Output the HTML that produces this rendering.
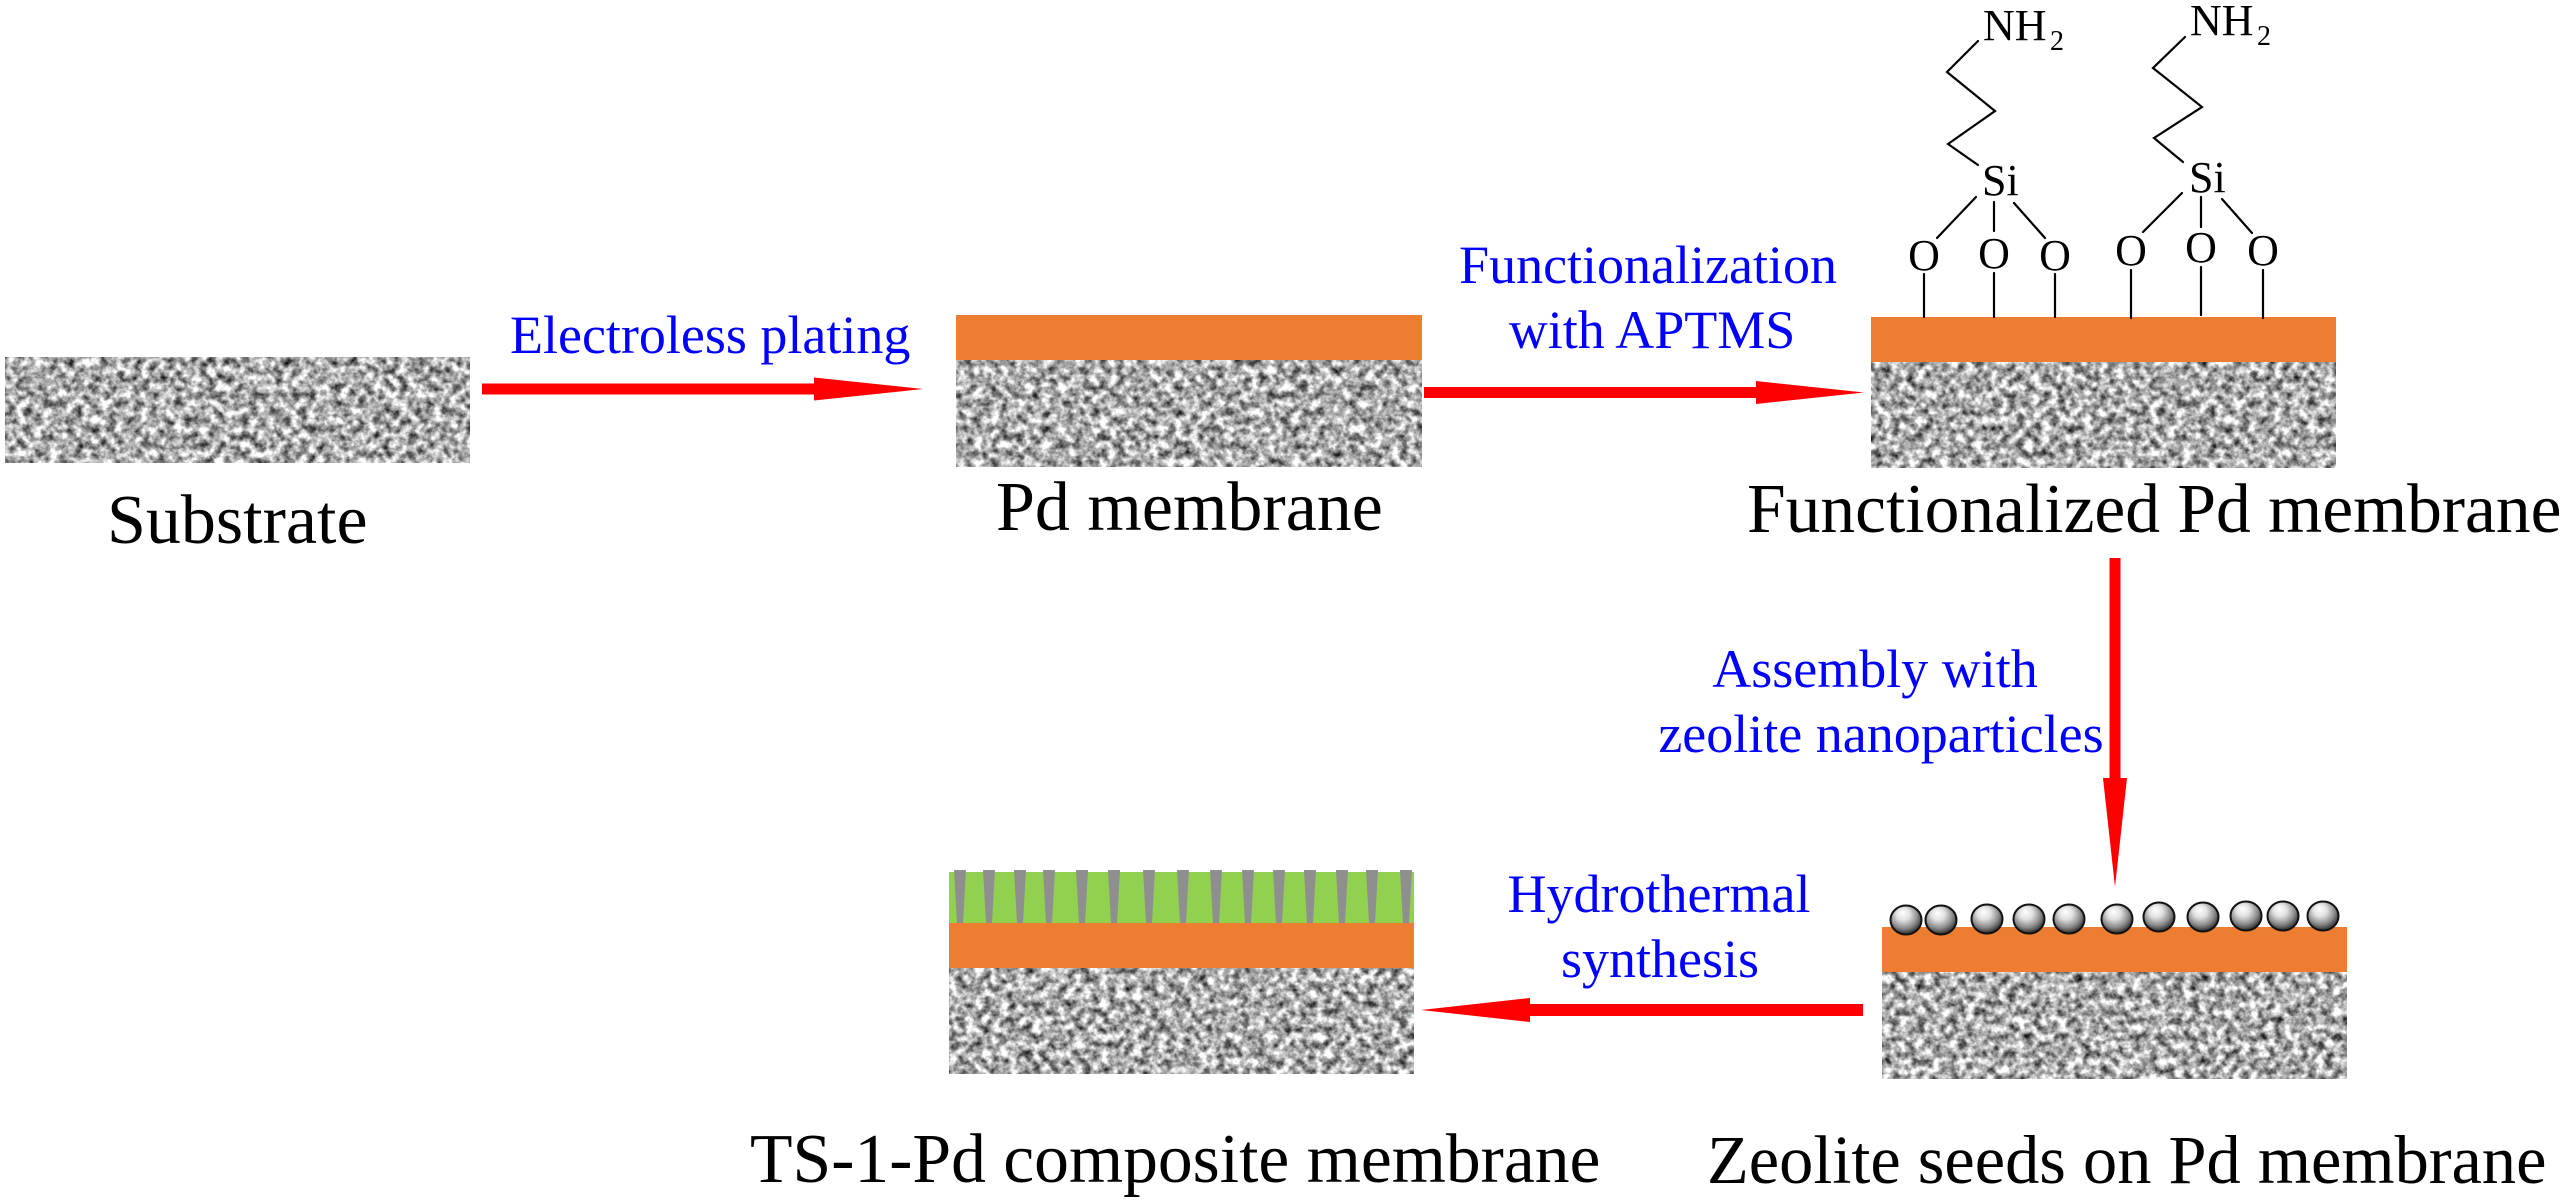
<!DOCTYPE html>
<html>
<head>
<meta charset="utf-8">
<style>
  html, body { margin: 0; padding: 0; background: #ffffff; }
  body { position: relative; width: 2568px; height: 1202px; overflow: hidden; }
  svg { display: block; position: absolute; left: 0; top: 0; }
  text { font-family: "Liberation Serif", "Times New Roman", serif; }
  .t { position: absolute; white-space: nowrap; line-height: 1; font-family: "Liberation Serif", "Times New Roman", serif; font-weight: normal; }
  .b { font-size: 54px; color: #0000ff; }
  .k { font-size: 70px; color: #000000; }
  .c { text-align: center; width: 600px; }
</style>
</head>
<body>
<svg width="2568" height="1202" viewBox="0 0 2568 1202" xmlns="http://www.w3.org/2000/svg">
  <defs>
    <filter id="noise" x="0" y="0" width="1" height="1" filterUnits="objectBoundingBox" color-interpolation-filters="sRGB">
      <feTurbulence type="fractalNoise" baseFrequency="0.12" numOctaves="3" seed="7" result="t"/>
      <feColorMatrix in="t" type="matrix" values="1.55 0 0 0 -0.1  1.55 0 0 0 -0.1  1.55 0 0 0 -0.1  0 0 0 0 1"/>
    </filter>
    <radialGradient id="sph" cx="0.45" cy="0.38" r="0.62" fx="0.38" fy="0.25">
      <stop offset="0" stop-color="#ffffff"/>
      <stop offset="0.35" stop-color="#e2e2e2"/>
      <stop offset="0.72" stop-color="#8a8a8a"/>
      <stop offset="1" stop-color="#2a2a2a"/>
    </radialGradient>
  </defs>

  <!-- Substrate -->
  <rect x="5" y="357" width="465" height="106" fill="#a8a8a8" filter="url(#noise)"/>

  <!-- Pd membrane -->
  <rect x="956" y="315" width="466" height="45" fill="#ed7d31"/>
  <rect x="956" y="360" width="466" height="107" fill="#a8a8a8" filter="url(#noise)"/>

  <!-- Functionalized Pd membrane -->
  <rect x="1871" y="317" width="465" height="45" fill="#ed7d31"/>
  <rect x="1871" y="362" width="465" height="106" fill="#a8a8a8" filter="url(#noise)"/>

  <!-- Zeolite seeds on Pd membrane -->
  <rect x="1882" y="927" width="465" height="45" fill="#ed7d31"/>
  <rect x="1882" y="972" width="465" height="107" fill="#a8a8a8" filter="url(#noise)"/>
  <g fill="url(#sph)" stroke="#111" stroke-width="2">
    <ellipse cx="1906" cy="920" rx="15.5" ry="14.5"/>
    <ellipse cx="1941" cy="920" rx="15.5" ry="14.5"/>
    <ellipse cx="1987" cy="919" rx="15.5" ry="14.5"/>
    <ellipse cx="2029" cy="919" rx="15.5" ry="14.5"/>
    <ellipse cx="2069" cy="919" rx="15.5" ry="14.5"/>
    <ellipse cx="2117" cy="919" rx="15.5" ry="14.5"/>
    <ellipse cx="2159" cy="917" rx="15.5" ry="14.5"/>
    <ellipse cx="2203" cy="917" rx="15.5" ry="14.5"/>
    <ellipse cx="2246" cy="916" rx="15.5" ry="14.5"/>
    <ellipse cx="2283" cy="916" rx="15.5" ry="14.5"/>
    <ellipse cx="2323" cy="916" rx="15.5" ry="14.5"/>
  </g>

  <!-- TS-1-Pd composite membrane -->
  <rect x="949" y="872" width="465" height="51" fill="#92d050"/>
  <g fill="#8f8f8f">
    <polygon points="954,870 966,870 963,923 957,923"/>
    <polygon points="983,870 995,870 992,923 986,923"/>
    <polygon points="1014,870 1026,870 1023,923 1017,923"/>
    <polygon points="1043,870 1055,870 1052,923 1046,923"/>
    <polygon points="1076,870 1088,870 1085,923 1079,923"/>
    <polygon points="1108,870 1120,870 1117,923 1111,923"/>
    <polygon points="1143,870 1155,870 1152,923 1146,923"/>
    <polygon points="1177,870 1189,870 1186,923 1180,923"/>
    <polygon points="1210,870 1222,870 1219,923 1213,923"/>
    <polygon points="1242,870 1254,870 1251,923 1245,923"/>
    <polygon points="1273,870 1285,870 1282,923 1276,923"/>
    <polygon points="1304,870 1316,870 1313,923 1307,923"/>
    <polygon points="1336,870 1348,870 1345,923 1339,923"/>
    <polygon points="1366,870 1378,870 1375,923 1369,923"/>
    <polygon points="1400,870 1412,870 1409,923 1403,923"/>
  </g>
  <rect x="949" y="923" width="465" height="45" fill="#ed7d31"/>
  <rect x="949" y="968" width="465" height="106" fill="#a8a8a8" filter="url(#noise)"/>

  <!-- Chemistry bonds -->
  <g stroke="#000" stroke-width="2.2" fill="none" stroke-linecap="round" stroke-linejoin="miter">
    <polyline points="1978,41 1947,72 1995,111 1948,144 1978,165"/>
    <line x1="1976" y1="197" x2="1937" y2="238"/>
    <line x1="1994" y1="202" x2="1994" y2="231"/>
    <line x1="2014" y1="203" x2="2045" y2="238"/>
    <line x1="1924" y1="274" x2="1924" y2="317"/>
    <line x1="1994" y1="273" x2="1994" y2="317"/>
    <line x1="2055" y1="274" x2="2055" y2="317"/>

    <polyline points="2185,37 2153,68 2202,107 2154,138 2183,162"/>
    <line x1="2182" y1="193" x2="2143" y2="232"/>
    <line x1="2201" y1="197" x2="2201" y2="227"/>
    <line x1="2222" y1="199" x2="2252" y2="233"/>
    <line x1="2131" y1="270" x2="2131" y2="318"/>
    <line x1="2201" y1="267" x2="2201" y2="315"/>
    <line x1="2263" y1="270" x2="2263" y2="318"/>
  </g>
  <g font-size="44" fill="#000">
    <text x="1983" y="40">NH</text>
    <text x="2050" y="50" font-size="28">2</text>
    <text x="1982" y="195">Si</text>
    <text x="1924" y="270" text-anchor="middle">O</text>
    <text x="1994" y="268" text-anchor="middle">O</text>
    <text x="2055" y="270" text-anchor="middle">O</text>

    <text x="2190" y="35">NH</text>
    <text x="2257" y="45" font-size="28">2</text>
    <text x="2189" y="192">Si</text>
    <text x="2131" y="265" text-anchor="middle">O</text>
    <text x="2201" y="262" text-anchor="middle">O</text>
    <text x="2263" y="265" text-anchor="middle">O</text>
  </g>

  <!-- Arrows -->
  <g fill="#ff0000">
    <polygon points="482,383.5 814,383.5 814,377.5 923,389 814,400.5 814,394.5 482,394.5"/>
    <polygon points="1424,387 1756,387 1756,381 1864,392.5 1756,404 1756,398 1424,398"/>
    <polygon points="2109.5,558 2120.5,558 2120.5,778 2127,778 2115,887 2103,778 2109.5,778"/>
    <polygon points="1863,1004 1530,1004 1530,998 1421,1010 1530,1022 1530,1016 1863,1016"/>
  </g>
</svg>

<!-- Blue step labels -->
<div class="t b" style="left:510px; top:308px;">Electroless plating</div>
<div class="t b c" style="left:1348px; top:238px;">Functionalization</div>
<div class="t b c" style="left:1352px; top:303px;">with APTMS</div>
<div class="t b c" style="left:1575px; top:642px;">Assembly with</div>
<div class="t b c" style="left:1581px; top:707px;">zeolite nanoparticles</div>
<div class="t b c" style="left:1359px; top:867px;">Hydrothermal</div>
<div class="t b c" style="left:1360px; top:932px;">synthesis</div>

<!-- Black stage labels -->
<div class="t k" style="left:107px; top:486px;">Substrate</div>
<div class="t k" style="left:996px; top:473px;">Pd membrane</div>
<div class="t k" style="left:1747px; top:475px; font-size:69.5px;">Functionalized Pd membrane</div>
<div class="t k" style="left:750px; top:1125px; font-size:69.6px;">TS-1-Pd composite membrane</div>
<div class="t k" style="left:1707px; top:1126px; font-size:68.4px;">Zeolite seeds on Pd membrane</div>
</body>
</html>
